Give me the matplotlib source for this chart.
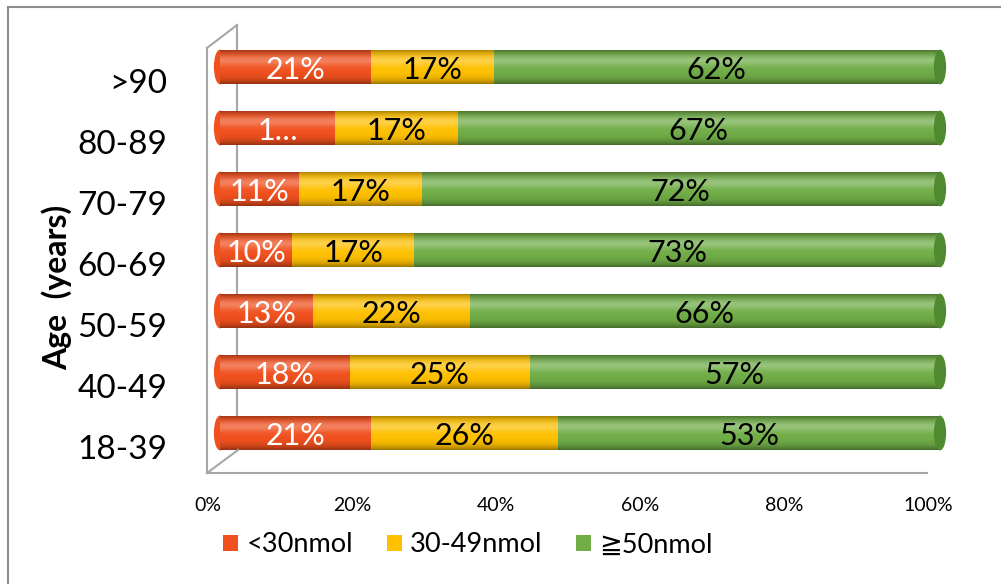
import numpy as np
import matplotlib
matplotlib.use('Agg')
import matplotlib.pyplot as plt
from matplotlib.transforms import ScaledTranslation
from matplotlib.patches import Ellipse, Rectangle
from matplotlib.lines import Line2D
import matplotlib.colors as mcolors

# ---- data ----
categories = ['18-39', '40-49', '50-59', '60-69', '70-79', '80-89', '>90']
low = [21, 18, 13, 10, 11, 16, 21]
mid = [26, 25, 22, 17, 17, 17, 17]
high = [53, 57, 66, 73, 72, 67, 62]
low_text = ['21%', '18%', '13%', '10%', '11%', '1…', '21%']
series_names = ['<30nmol', '30-49nmol', '≧50nmol']
colors = ['#F0501E', '#FFC000', '#70AD47']
xticks = [0, 20, 40, 60, 80, 100]
xtick_labels = ['0%', '20%', '40%', '60%', '80%', '100%']

plt.rcParams['font.family'] = ['Lato', 'DejaVu Sans']

W, H = 1001, 584
fig = plt.figure(figsize=(W / 100, H / 100), dpi=100)
fig.patch.set_facecolor('white')


def fx(px):
    return px / W


def fy(py):
    return 1 - py / H


ax = fig.add_axes([fx(220), fy(463.5), fx(940) - fx(220), fy(36.5) - fy(463.5)])
ax.patch.set_visible(False)

y = np.arange(len(categories))
bar_h = 0.57
series = [np.array(s, dtype=float) for s in (low, mid, high)]
totals = series[0] + series[1] + series[2]
lefts = np.zeros(len(categories))


def gradient(color, n=64):
    base = np.array(mcolors.to_rgb(color))
    t = np.linspace(0, 1, n)
    shade = 1 - 0.38 * np.abs(2 * t - 1) ** 3.5
    hl = 0.28 * np.exp(-((t - 0.32) / 0.16) ** 2)
    rgb = base[None, :] * shade[:, None]
    rgb = rgb + (1 - rgb) * hl[:, None]
    return np.clip(rgb, 0, 1)[:, None, :]


for i, (raw, col) in enumerate(zip(series, colors)):
    vals = raw / totals * 100.0
    bars = ax.barh(y, vals, left=lefts, height=bar_h, color=col, zorder=2,
                   linewidth=0)
    g = gradient(col)
    for p in bars.patches:
        x0, y0, w, h = p.get_x(), p.get_y(), p.get_width(), p.get_height()
        im = ax.imshow(g, extent=(x0, x0 + w, y0, y0 + h), aspect='auto',
                       origin='upper', zorder=2.5, interpolation='bilinear')
        im.set_clip_path(p)
    if i == 0:
        for yy in y:
            e = Ellipse((0, yy), 1.7, bar_h, facecolor=mcolors.to_rgb(col),
                        edgecolor='none', zorder=1.9, clip_on=False)
            ax.add_patch(e)
    for j, (l, v) in enumerate(zip(lefts, vals)):
        if i == 0:
            txt = low_text[j]
            tc = 'white'
        else:
            txt = f'{int(raw[j])}%'
            tc = 'black'
        ax.text(l + v / 2, y[j] - 0.05, txt, ha='center', va='center',
                fontsize=22, color=tc, zorder=4)
    lefts = lefts + vals
    if i == 2:
        for j, yy in enumerate(y):
            e = Ellipse((lefts[j], yy), 1.7, bar_h, facecolor='#4F8A30',
                        edgecolor='none', zorder=3, clip_on=False)
            ax.add_patch(e)

ax.set_xlim(0, 100)
ax.set_ylim(-0.5, len(categories) - 0.5)
for s in ax.spines.values():
    s.set_visible(False)

ax.set_yticks(y)
ax.set_yticklabels(categories, fontsize=24)
ax.tick_params(axis='y', length=0, pad=38)
for lab in ax.get_yticklabels():
    lab.set_transform(lab.get_transform() + ScaledTranslation(0, -0.14, fig.dpi_scale_trans))

ax.set_xticks(xticks)
ax.set_xticklabels(xtick_labels, fontsize=14)
ax.tick_params(axis='x', length=0, pad=24)
for lab in ax.get_xticklabels():
    lab.set_transform(lab.get_transform() + ScaledTranslation(-0.12, 0, fig.dpi_scale_trans))

fig.text(fx(57), fy(287), 'Age  (years)', rotation=90, fontsize=23,
         fontweight='bold', ha='center', va='center')

# 3D frame decoration
gc = '#A6A6A6'
frame = [
    ([207, 207], [48, 473]),
    ([207, 237], [48, 25]),
    ([207, 238], [473, 450]),
    ([207, 927], [473, 473]),
]
for xs, ys in frame:
    fig.add_artist(Line2D([fx(v) for v in xs], [fy(v) for v in ys],
                          transform=fig.transFigure, color=gc, lw=1.5, zorder=1))
fig.add_artist(Line2D([fx(237), fx(237)], [fy(25), fy(450)],
                      transform=fig.transFigure, color=gc, lw=1.5, zorder=-1))

# outer border
fig.add_artist(Line2D([fx(8), fx(8)], [fy(7), 0], transform=fig.transFigure,
                      color='#8C8C8C', lw=1.5))
fig.add_artist(Line2D([fx(8), 1], [fy(7), fy(7)], transform=fig.transFigure,
                      color='#8C8C8C', lw=1.5))

handles = [Rectangle((0, 0), 1, 1, facecolor=c, edgecolor='none') for c in colors]
fig.legend(handles, series_names, loc='center', bbox_to_anchor=(fx(468), fy(545)),
           ncol=3, frameon=False, fontsize=19.5, handlelength=0.55, handleheight=0.55,
           handletextpad=0.3, columnspacing=1.25)

fig.savefig('out.png', dpi=100)
